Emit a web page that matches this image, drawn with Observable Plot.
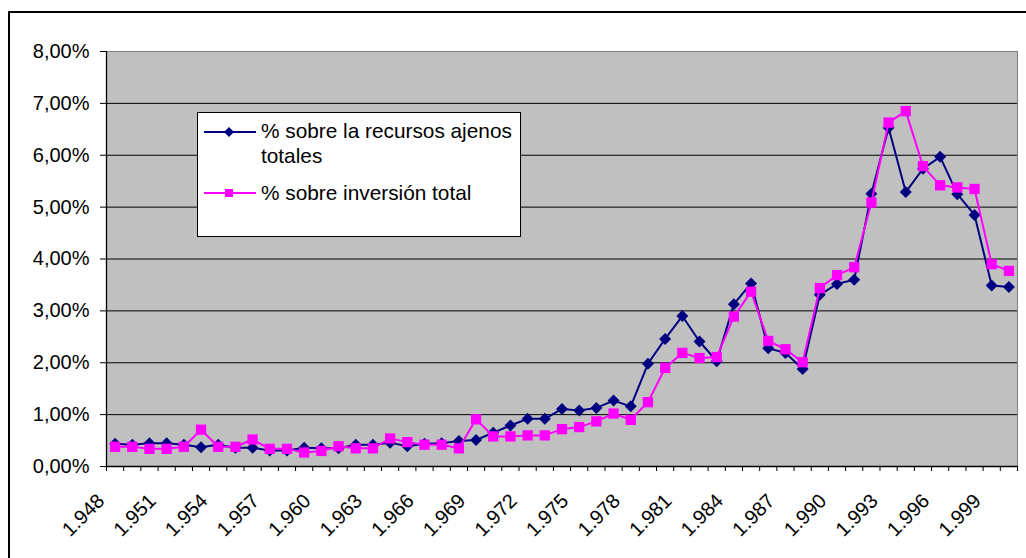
<!DOCTYPE html>
<html>
<head>
<meta charset="utf-8">
<script src="https://cdn.jsdelivr.net/npm/d3@7"></script>
<script src="https://cdn.jsdelivr.net/npm/@observablehq/plot@0.6"></script>
<style>
  html, body { margin: 0; padding: 0; background: #fff; width: 1026px; height: 558px; overflow: hidden; }
  #wrap { position: relative; width: 1026px; height: 558px; }
  #chart { position: absolute; left: 0; top: 0; }
  #border { position: absolute; left: 8px; top: 11px; width: 1100px; height: 600px; border: 2px solid #000; box-sizing: border-box; pointer-events: none; }
  #legend { position: absolute; left: 197px; top: 112px; }
</style>
</head>
<body>
<div id="wrap">
  <div id="chart"></div>
  <div id="border"></div>
  <div id="legend"></div>
</div>
<script>
// ---- data (values in %) ----
const years = [1948,1949,1950,1951,1952,1953,1954,1955,1956,1957,1958,1959,1960,1961,1962,1963,1964,1965,1966,1967,1968,1969,1970,1971,1972,1973,1974,1975,1976,1977,1978,1979,1980,1981,1982,1983,1984,1985,1986,1987,1988,1989,1990,1991,1992,1993,1994,1995,1996,1997,1998,1999,2000];
const recursosAjenos = [0.44,0.42,0.45,0.45,0.42,0.37,0.42,0.36,0.36,0.31,0.31,0.36,0.35,0.35,0.42,0.42,0.46,0.39,0.44,0.45,0.49,0.51,0.65,0.79,0.92,0.92,1.11,1.08,1.13,1.27,1.16,1.98,2.46,2.90,2.41,2.03,3.13,3.53,2.28,2.19,1.88,3.31,3.52,3.60,5.26,6.53,5.29,5.74,5.97,5.25,4.85,3.49,3.46];
const inversionTotal = [0.38,0.38,0.34,0.34,0.38,0.71,0.38,0.38,0.52,0.34,0.34,0.27,0.30,0.39,0.35,0.35,0.54,0.47,0.42,0.42,0.35,0.91,0.58,0.58,0.60,0.60,0.72,0.76,0.87,1.02,0.90,1.24,1.90,2.19,2.09,2.11,2.89,3.37,2.42,2.26,2.01,3.44,3.69,3.84,5.09,6.63,6.85,5.79,5.42,5.38,5.35,3.90,3.77];
const seriesNames = ["% sobre la recursos ajenos totales", "% sobre inversión total"];
const xLabelYears = [1948,1951,1954,1957,1960,1963,1966,1969,1972,1975,1978,1981,1984,1987,1990,1993,1996,1999];
const xTickLabels = ["1.948","1.951","1.954","1.957","1.960","1.963","1.966","1.969","1.972","1.975","1.978","1.981","1.984","1.987","1.990","1.993","1.996","1.999"];
const yTicks = [0,1,2,3,4,5,6,7,8];
const yTickLabels = ["0,00%","1,00%","2,00%","3,00%","4,00%","5,00%","6,00%","7,00%","8,00%"];

const blueColor = "#000080";
const pinkColor = "#ff00ff";
const font = "'Liberation Sans', Arial, sans-serif";

const rows = years.map((y, i) => ({year: y, a: recursosAjenos[i], b: inversionTotal[i]}));
const boundaries = years.map(y => y - 0.5).concat([years[years.length - 1] + 0.5]);
const labelRows = xLabelYears.map((y, i) => ({year: y, label: xTickLabels[i]}));

const plot = Plot.plot({
  width: 1026,
  height: 558,
  marginLeft: 106,
  marginRight: 9,
  marginTop: 51,
  marginBottom: 92,
  style: {fontFamily: font, fontSize: "20px", background: "transparent", color: "#000", overflow: "visible"},
  x: {domain: [boundaries[0], boundaries[boundaries.length - 1]], axis: null, label: null},
  y: {domain: [0, 8], axis: null, label: null},
  marks: [
    Plot.frame({fill: "#c0c0c0", stroke: "#808080"}),
    Plot.gridY({ticks: yTicks.filter(t => t > 0 && t < 8), stroke: "#000", strokeOpacity: 1, strokeWidth: 1}),
    Plot.ruleY([0], {stroke: "#000", strokeWidth: 1.3}),
    Plot.ruleX([boundaries[0]], {stroke: "#000", strokeWidth: 1.3}),
    Plot.axisY({ticks: yTicks, tickSize: 6, tickPadding: 11, label: null, tickFormat: d => yTickLabels[yTicks.indexOf(d)], stroke: "#000", fill: "#000"}),
    Plot.axisX({ticks: boundaries, tickSize: 5, label: null, tickFormat: () => "", stroke: "#000"}),
    Plot.text(labelRows, {x: "year", text: "label", frameAnchor: "bottom", rotate: -45, textAnchor: "end", lineAnchor: "middle", dx: -14, dy: 31, fill: "#000"}),
    Plot.line(rows, {x: "year", y: "a", stroke: blueColor, strokeWidth: 2}),
    Plot.dot(rows, {x: "year", y: "a", symbol: "diamond2", r: 5.4, fill: blueColor, stroke: "none"}),
    Plot.line(rows, {x: "year", y: "b", stroke: pinkColor, strokeWidth: 2}),
    Plot.dot(rows, {x: "year", y: "b", symbol: "square", r: 5.8, fill: pinkColor, stroke: "none"})
  ]
});
document.getElementById("chart").appendChild(plot);

// ---- legend ----
const W = 324, H = 125;
const lg = d3.select("#legend").append("svg")
  .attr("width", W).attr("height", H)
  .style("font-family", font).style("font-size", "20.8px");
lg.append("rect").attr("x", 0.5).attr("y", 0.5).attr("width", W - 1).attr("height", H - 1)
  .attr("fill", "#fff").attr("stroke", "#000").attr("stroke-width", 1);
// row 1
lg.append("line").attr("x1", 7).attr("x2", 59).attr("y1", 20).attr("y2", 20).attr("stroke", blueColor).attr("stroke-width", 2);
lg.append("path").attr("d", "M32,15L37,20L32,25L27,20Z").attr("fill", blueColor);
lg.append("text").attr("x", 64).attr("y", 26).text("% sobre la recursos ajenos");
lg.append("text").attr("x", 64).attr("y", 51).text("totales");
// row 2
lg.append("line").attr("x1", 7).attr("x2", 59).attr("y1", 81).attr("y2", 81).attr("stroke", pinkColor).attr("stroke-width", 2);
lg.append("rect").attr("x", 28).attr("y", 77).attr("width", 8).attr("height", 8).attr("fill", pinkColor);
lg.append("text").attr("x", 64).attr("y", 88).text(seriesNames[1]);
</script>
</body>
</html>
